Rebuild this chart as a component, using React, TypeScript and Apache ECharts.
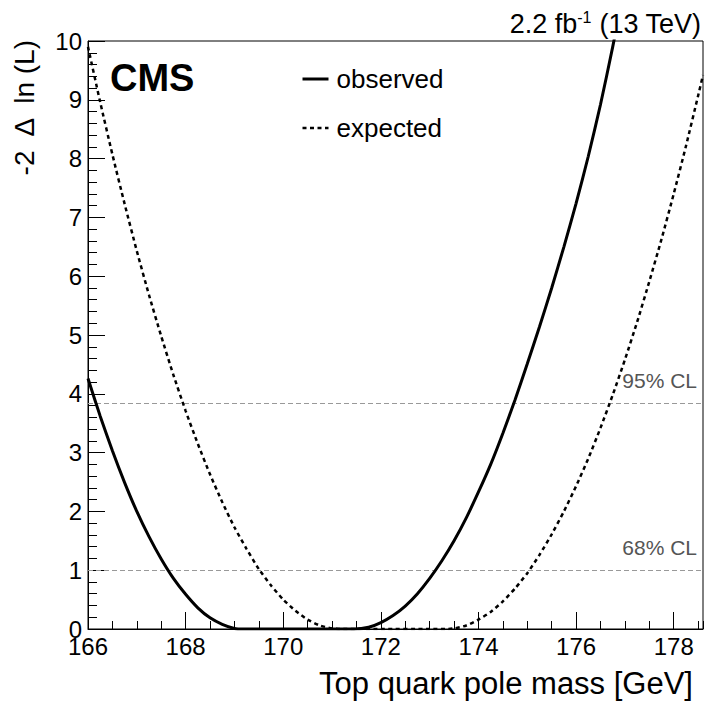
import React, { useEffect, useRef } from 'react';
import * as echarts from 'echarts';

// Observed likelihood scan (solid)
const obsMass = [166.0, 166.25, 166.5, 166.75, 167.0, 167.25, 167.5, 167.75, 168.0, 168.25, 168.5, 168.75, 169.0, 169.18, 169.5, 170.0, 170.5, 171.0, 171.45, 171.75, 172.0, 172.25, 172.5, 172.75, 173.0, 173.25, 173.5, 173.75, 174.0, 174.25, 174.5, 174.75, 175.0, 175.25, 175.5, 175.75, 176.0, 176.25, 176.5, 176.75, 177.0];
const obsNll = [4.26, 3.62, 3.03, 2.49, 2.0, 1.57, 1.19, 0.86, 0.59, 0.36, 0.19, 0.08, 0.01, 0, 0, 0, 0, 0, 0, 0.03, 0.11, 0.23, 0.39, 0.6, 0.86, 1.16, 1.5, 1.89, 2.33, 2.8, 3.33, 3.9, 4.51, 5.14, 5.8, 6.5, 7.24, 8.04, 8.92, 9.9, 10.95];

// Expected likelihood scan (dashed)
const expMass = [166.0, 166.25, 166.5, 166.75, 167.0, 167.25, 167.5, 167.75, 168.0, 168.25, 168.5, 168.75, 169.0, 169.25, 169.5, 169.75, 170.0, 170.25, 170.5, 170.75, 171.0, 171.16, 172.0, 173.0, 173.32, 173.5, 173.75, 174.0, 174.25, 174.5, 174.75, 175.0, 175.25, 175.5, 175.75, 176.0, 176.25, 176.5, 176.75, 177.0, 177.25, 177.5, 177.75, 178.0, 178.25, 178.5, 178.6];
const expNll = [9.9, 8.96, 8.07, 7.23, 6.43, 5.68, 4.98, 4.32, 3.71, 3.15, 2.63, 2.16, 1.73, 1.36, 1.02, 0.74, 0.5, 0.31, 0.16, 0.06, 0.01, 0, 0, 0, 0, 0.01, 0.06, 0.16, 0.29, 0.47, 0.69, 0.95, 1.26, 1.61, 2.0, 2.43, 2.9, 3.42, 3.98, 4.58, 5.22, 5.91, 6.63, 7.4, 8.21, 9.07, 9.42];

// Confidence-level reference lines
const clLevels = [1, 3.84];
const clLabels = ['68% CL', '95% CL'];

const seriesNames = ['observed', 'expected'];

const FONT = '"Liberation Sans", Arial, Helvetica, sans-serif';

export default function App() {
  const ref = useRef<HTMLDivElement>(null);

  useEffect(() => {
    document.body.style.margin = '0';
    const chart = echarts.init(ref.current as HTMLDivElement, null, { renderer: 'svg' });

    const option: any = {
      animation: false,
      backgroundColor: '#fff',
      grid: {
        left: 88,
        top: 41,
        right: 2,
        bottom: 73,
        show: true,
        borderColor: '#000',
        borderWidth: 1,
        backgroundColor: 'transparent',
        containLabel: false,
        outerBoundsMode: 'none',
      },
      legend: {
        data: seriesNames,
        orient: 'vertical',
        left: 301,
        top: 66,
        padding: 0,
        itemWidth: 26,
        itemHeight: 14,
        itemGap: 23,
        selectedMode: false,
        itemStyle: { opacity: 0 },
        lineStyle: { width: 'inherit', type: 'inherit' },
        textStyle: { fontSize: 26, color: '#000', fontFamily: FONT, padding: [0, 0, 0, 3] },
      },
      xAxis: [
        {
          type: 'value',
          min: 166,
          max: 178.6,
          interval: 2,
          position: 'bottom',
          axisLine: { show: true, onZero: false, lineStyle: { color: '#000', width: 1 } },
          axisTick: { show: true, inside: true, length: 17, lineStyle: { color: '#000', width: 1 } },
          axisLabel: {
            show: true,
            margin: 5,
            fontSize: 24,
            color: '#000',
            fontFamily: FONT,
            showMaxLabel: false,
            formatter: (v: number) => (Math.abs(v % 2) < 1e-9 ? String(v) : ''),
          },
          splitLine: { show: false },
        },
        {
          type: 'value',
          min: 166,
          max: 178.6,
          interval: 0.5,
          position: 'bottom',
          axisLine: { show: false, onZero: false },
          axisTick: { show: true, inside: true, length: 8, lineStyle: { color: '#000', width: 1 } },
          axisLabel: { show: false },
          splitLine: { show: false },
        },
      ],
      yAxis: {
        type: 'value',
        min: 0,
        max: 10,
        interval: 1,
        axisLine: { show: true, onZero: false, lineStyle: { color: '#000', width: 1 } },
        axisTick: { show: true, inside: true, length: 17, lineStyle: { color: '#000', width: 1 } },
        minorTick: { show: true, splitNumber: 5, length: 9, lineStyle: { color: '#000', width: 1 } },
        axisLabel: { margin: 6, fontSize: 24, color: '#000', fontFamily: FONT },
        splitLine: { show: false },
        minorSplitLine: { show: false },
      },
      series: [
        {
          name: 'observed',
          type: 'line',
          xAxisIndex: 0,
          data: obsMass.map((m, i) => [m, obsNll[i]]),
          symbol: 'none',
          showSymbol: false,
          smooth: 0.2,
          z: 4,
          lineStyle: { color: '#000', width: 3 },
          itemStyle: { color: '#000' },
          markLine: {
            silent: true,
            symbol: ['none', 'none'],
            z: 1,
            lineStyle: { color: '#999', type: [5, 3], width: 1.2 },
            label: {
              show: true,
              position: 'insideEndTop',
              formatter: '{b}',
              color: '#555',
              fontSize: 21,
              fontFamily: FONT,
              distance: [6, 12],
            },
            data: clLevels.map((v, i) => ({ yAxis: v, name: clLabels[i] })),
          },
        },
        {
          name: 'expected',
          type: 'line',
          xAxisIndex: 0,
          data: expMass.map((m, i) => [m, expNll[i]]),
          symbol: 'none',
          showSymbol: false,
          smooth: 0.2,
          z: 3,
          lineStyle: { color: '#000', width: 2.5, type: [4, 3.5] },
          itemStyle: { color: '#000' },
        },
      ],
      graphic: [
        {
          type: 'text',
          x: 110,
          y: 78,
          style: {
            text: 'CMS',
            fontSize: 38,
            fontWeight: 'bold',
            fontFamily: FONT,
            fill: '#000',
            align: 'left',
            textAlign: 'left',
            verticalAlign: 'middle',
            textVerticalAlign: 'middle',
          },
        },
        {
          type: 'text',
          x: 701,
          y: 24,
          style: {
            text: '{a|2.2 fb}{s|-1}{a| (13 TeV)}',
            fontFamily: FONT,
            fill: '#000',
            align: 'right',
            textAlign: 'right',
            verticalAlign: 'middle',
            textVerticalAlign: 'middle',
            rich: {
              a: { fontSize: 27, lineHeight: 30, fontFamily: FONT, fill: '#000' },
              s: { fontSize: 16, lineHeight: 20, verticalAlign: 'top', fontFamily: FONT, fill: '#000' },
            },
          },
        },
        {
          type: 'text',
          x: 24,
          y: 40,
          rotation: Math.PI / 2,
          style: {
            text: '-2  Δ  ln (L)',
            fontSize: 28,
            fontFamily: FONT,
            fill: '#000',
            align: 'right',
            textAlign: 'right',
            verticalAlign: 'middle',
            textVerticalAlign: 'middle',
          },
        },
        {
          type: 'text',
          x: 693,
          y: 683,
          style: {
            text: 'Top quark pole mass [GeV]',
            fontSize: 31,
            fontFamily: FONT,
            fill: '#000',
            align: 'right',
            textAlign: 'right',
            verticalAlign: 'middle',
            textVerticalAlign: 'middle',
          },
        },
      ],
    };

    chart.setOption(option);
    return () => chart.dispose();
  }, []);

  return <div ref={ref} style={{ width: 705, height: 702 }} />;
}
